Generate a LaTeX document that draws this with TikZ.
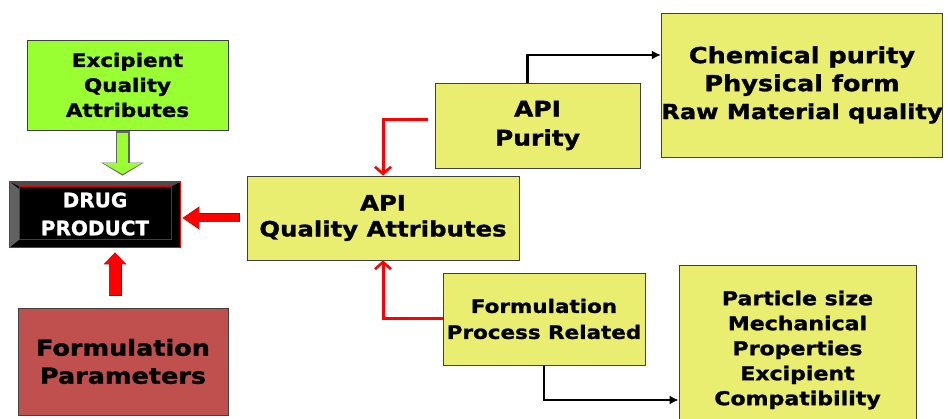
\documentclass[tikz,border=0pt]{standalone}
\usepackage{fontspec}
\newfontfamily\wfont[FakeStretch=1.16,FakeBold=1.3]{DejaVu Sans Bold}
\newfontfamily\dfont[FakeBold=1.0]{DejaVu Sans Bold}
\usetikzlibrary{arrows.meta,calc}
\definecolor{ygold}{HTML}{EAEE70}
\definecolor{lgreen}{HTML}{99FF33}
\definecolor{brick}{HTML}{C0504D}
\definecolor{bred}{HTML}{FF0000}
\tikzset{
  box/.style={draw=black!75, line width=0.8pt, align=center, inner sep=0pt, text=black},
  ybox/.style={box, fill=ygold},
  redcon/.style={draw=bred, line width=3pt, -{Straight Barb[length=7pt,width=16pt,line width=2.6pt]}},
  blkcon/.style={draw=black, line width=2.8pt, -{Latex[length=9pt,width=9pt]}},
}
\begin{document}
\begin{tikzpicture}[x=1pt,y=-1pt]
\clip (0,0) rectangle (948,419);
\fill[white] (0,0) rectangle (948,419);

% boxes
\node[box, fill=lgreen, minimum width=201pt, minimum height=90pt,
      font=\wfont\fontsize{18.5}{25}\selectfont] (exc) at (127.5,85)
      {Excipient\\Quality\\Attributes};
\node[draw=red, line width=0.8pt, fill=black, minimum width=170pt, minimum height=65pt, inner sep=0pt] (dp) at (95,214.5) {};
\fill[black!62] (dp.north west) -- ++(10,8) -- ($(dp.south west)+(10,-8)$) -- (dp.south west) -- cycle;
\fill[black!70] (dp.north west) -- (dp.north east) -- ++(-9,5) -- ($(dp.north west)+(10,5)$) -- cycle;
\draw[red!85!black, line width=0.6pt] ($(dp.north west)+(10,5)$) rectangle ($(dp.south east)+(-9,-8)$);
\draw[draw=red, line width=0.8pt] (dp.north west) rectangle (dp.south east);
\node[text=white, align=center, inner sep=0pt, font=\dfont\fontsize{20}{28}\selectfont] (dpt) at (95,214) {DRUG\\PRODUCT};

\node[box, fill=brick, minimum width=210pt, minimum height=107pt,
      font=\wfont\fontsize{22}{28}\selectfont] (fp) at (123,361.5)
      {Formulation\\Parameters};
\node[ybox, minimum width=272pt, minimum height=84pt,
      font=\wfont\fontsize{21}{26}\selectfont] (qa) at (383,218)
      {API\\Quality Attributes};
\node[ybox, minimum width=205pt, minimum height=85pt,
      font=\wfont\fontsize{21.5}{29}\selectfont] (pur) at (537.5,125.5)
      {API\\Purity};
\node[ybox, minimum width=202pt, minimum height=92pt,
      font=\wfont\fontsize{18.5}{26}\selectfont] (fpr) at (544,319)
      {Formulation\\Process Related};
\node[ybox, minimum width=280pt, minimum height=144pt,
      font=\wfont\fontsize{22}{28}\selectfont] (chem) at (802,85)
      {Chemical purity\\Physical form\\{\fontsize{20.8}{28}\selectfont Raw Material quality}};
\node[ybox, minimum width=237pt, minimum height=170pt,
      font=\wfont\fontsize{19}{25}\selectfont] (part) at (797.5,350)
      {Particle size\\Mechanical\\Properties\\Excipient\\Compatibility};

% block arrows
\draw[draw=black!60, line width=14pt, shorten <=1pt, shorten >=6pt,
      -{Triangle[length=13pt,width=42pt]}]
  ([xshift=-5pt]exc.south) -- ([xshift=-5pt]exc.south |- dp.north);
\draw[draw=lgreen, line width=11pt, shorten <=2.5pt, shorten >=7.5pt,
      -{Triangle[length=11pt,width=38pt]}]
  ([xshift=-5pt]exc.south) -- ([xshift=-5pt]exc.south |- dp.north);

\draw[draw=red!70!black, line width=9pt, shorten <=7pt, shorten >=2pt,
      -{Triangle[length=17pt,width=22pt]}]
  (qa.west) -- (qa.west -| dp.east);
\draw[draw=bred, line width=8pt, shorten <=7.5pt, shorten >=2.5pt,
      -{Triangle[length=16pt,width=20pt]}]
  (qa.west) -- (qa.west -| dp.east);

\draw[draw=red!70!black, line width=13pt, shorten <=12pt, shorten >=5pt,
      -{Triangle[length=12pt,width=22pt]}]
  ([xshift=-8pt]fp.north) -- ([xshift=-8pt]fp.north |- dp.south);
\draw[draw=bred, line width=12pt, shorten <=12.5pt, shorten >=5.5pt,
      -{Triangle[length=11pt,width=20pt]}]
  ([xshift=-8pt]fp.north) -- ([xshift=-8pt]fp.north |- dp.south);

% connectors
\draw[redcon, shorten <=7pt] ([yshift=6pt]pur.west) -| (qa.north);
\draw[redcon] (fpr.west) -| (qa.south);
\draw[blkcon] ([xshift=-10pt]pur.north) |- ([yshift=30pt]chem.west);
\draw[blkcon] (fpr.south) |- ([yshift=-50pt]part.west);
\end{tikzpicture}
\end{document}
